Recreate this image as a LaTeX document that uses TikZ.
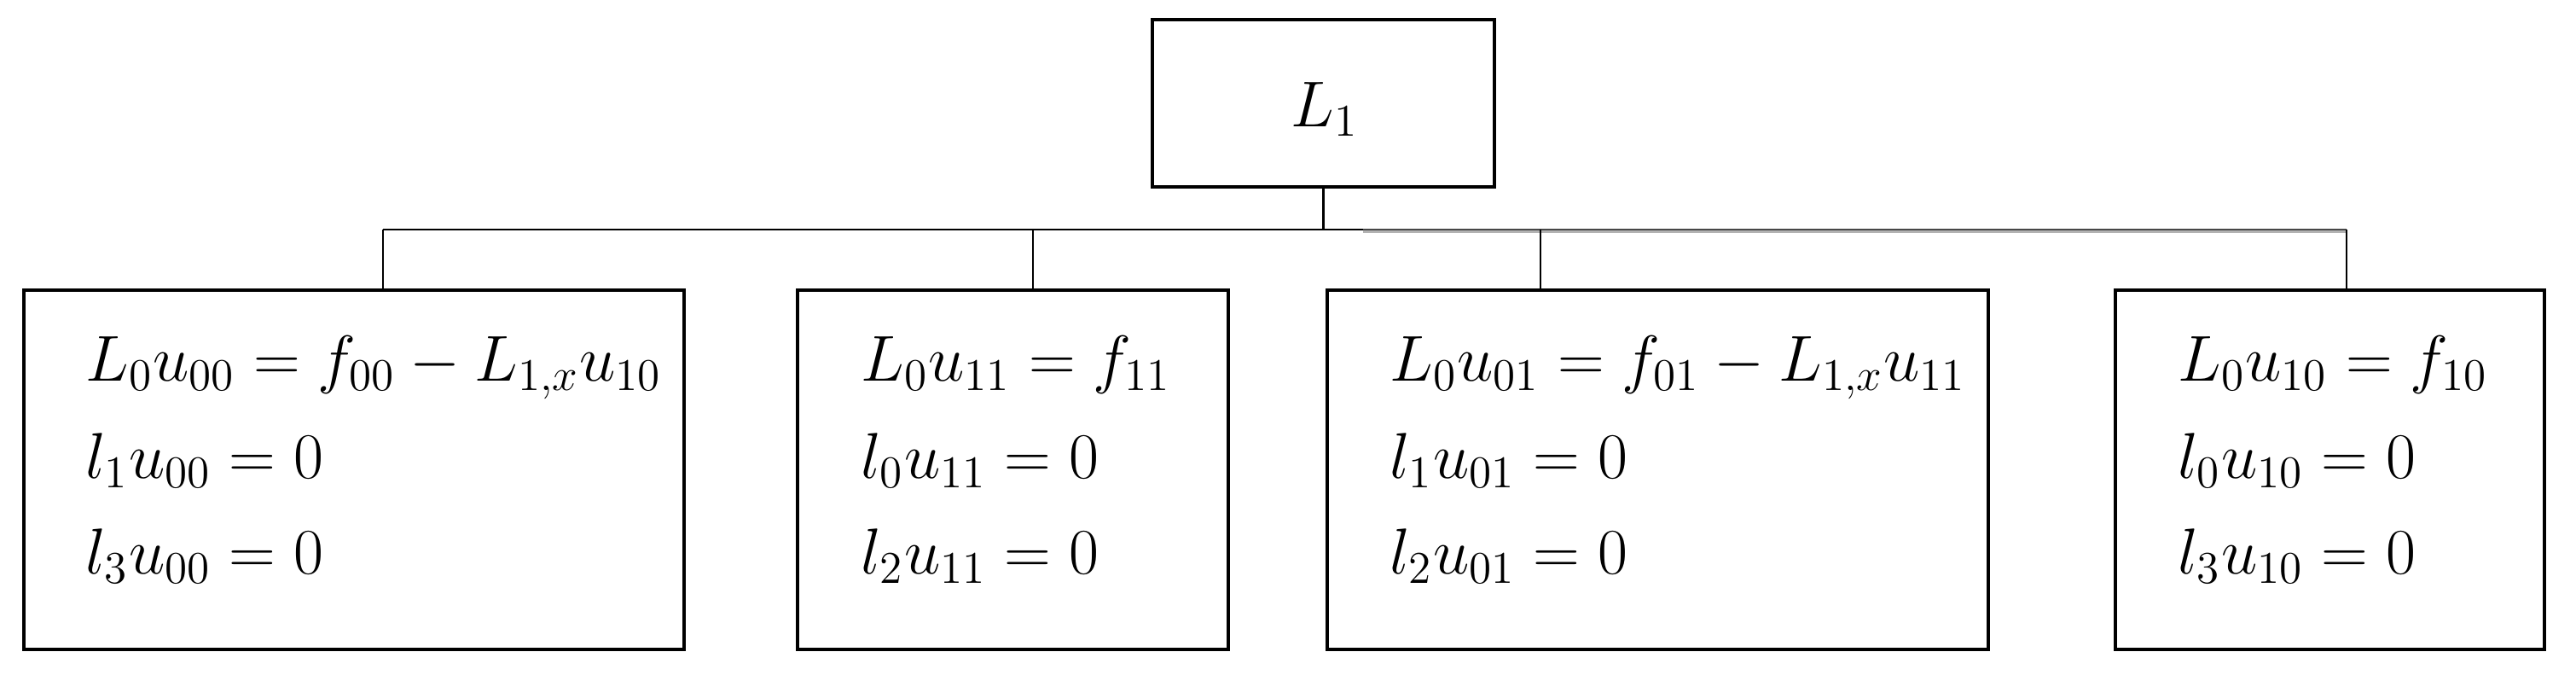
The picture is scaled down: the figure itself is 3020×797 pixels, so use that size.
\RequirePackage{fix-cm}
\documentclass[tikz,border=0pt]{standalone}
\begin{document}
\begin{tikzpicture}[x=0.25pt,y=-0.25pt,
  box/.style={draw,line width=0.8pt,inner sep=0pt,outer sep=0pt,rectangle},
  eq/.style={anchor=base west,inner sep=0pt,font=\fontsize{19}{23}\selectfont},
  link/.style={line width=0.55pt},
  buslink/.style={line width=0.7pt,draw=black!72},
  busshadow/.style={line width=0.6pt,draw=black!30}]
\useasboundingbox (0,0) rectangle (3020,797);
% boxes
\node[box,minimum width=100.25pt,minimum height=49pt] (top) at (1551.5,121) {};
\node[box,minimum width=193.5pt,minimum height=105.25pt] (b1) at (415,550.5) {};
\node[box,minimum width=126.25pt,minimum height=105.25pt] (b2) at (1187.5,550.5) {};
\node[box,minimum width=193.75pt,minimum height=105.25pt] (b3) at (1943.5,550.5) {};
\node[box,minimum width=125.75pt,minimum height=105.25pt] (b4) at (2731.5,550.5) {};
% texts
\node[eq,anchor=base] (t0) at (1553,148) {$L_1$};
\node[eq] (t11) at (100,446) {$L_0u_{00}=f_{00}-L_{1,x}u_{10}$};
\node[eq] (t12) at (100,560) {$l_1u_{00}=0$};
\node[eq] (t13) at (100,672) {$l_3u_{00}=0$};
\node[eq] (t21) at (1009,446) {$L_0u_{11}=f_{11}$};
\node[eq] (t22) at (1009,560) {$l_0u_{11}=0$};
\node[eq] (t23) at (1009,672) {$l_2u_{11}=0$};
\node[eq] (t31) at (1629,446) {$L_0u_{01}=f_{01}-L_{1,x}u_{11}$};
\node[eq] (t32) at (1629,560) {$l_1u_{01}=0$};
\node[eq] (t33) at (1629,672) {$l_2u_{01}=0$};
\node[eq] (t41) at (2553,446) {$L_0u_{10}=f_{10}$};
\node[eq] (t42) at (2553,560) {$l_0u_{10}=0$};
\node[eq] (t43) at (2553,672) {$l_3u_{10}=0$};
% connectors
\coordinate (bus) at (1551.5,269);
\coordinate (j1) at (449,269);
\coordinate (j2) at (1211,269);
\coordinate (g) at (1598,269);
\coordinate (j3) at (1806,269);
\coordinate (j4) at (2751,269);
\draw[link] (top.south) -- (bus);
\draw[link] (j1) -- (g);
\draw[busshadow] ([yshift=-0.6pt]g) -- ([yshift=-0.6pt]j4);
\draw[buslink] (g) -- (j4);
\draw[link] (j1) -- (j1 |- b1.north);
\draw[link] (j2) -- (j2 |- b2.north);
\draw[link] (j3) -- (j3 |- b3.north);
\draw[link] (j4) -- (j4 |- b4.north);
\end{tikzpicture}
\end{document}
